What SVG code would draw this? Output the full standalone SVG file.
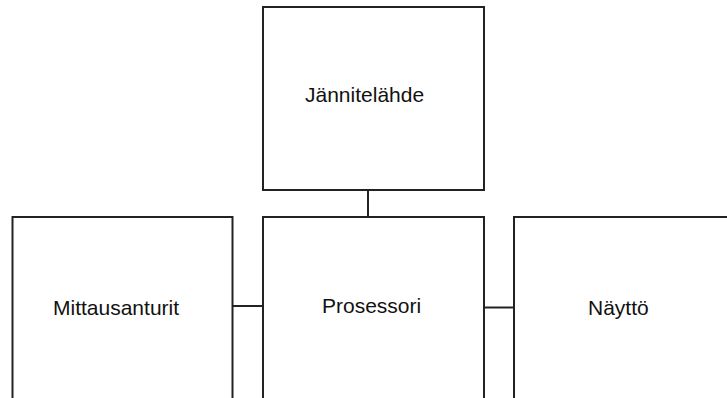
<svg xmlns="http://www.w3.org/2000/svg" width="727" height="398" viewBox="0 0 727 398">
<style>
.box{fill:#fff;stroke:#222;stroke-width:2}
.lbl{font-family:"Liberation Sans",Arial,sans-serif;font-size:21px;fill:#111}
.conn{stroke:#222;stroke-width:2;fill:none}
</style>
<rect width="727" height="398" fill="#fff"/>
<g id="connectors">
<line class="conn" x1="368" y1="190" x2="368" y2="217"/>
<line class="conn" x1="233" y1="306" x2="263" y2="306"/>
<line class="conn" x1="484" y1="307.5" x2="514" y2="307.5"/>
</g>
<g id="jannitelahde">
<rect class="box" x="263" y="7" width="221" height="183"/>
<text class="lbl" x="305" y="102">Jännitelähde</text>
</g>
<g id="mittausanturit">
<rect class="box" x="12.5" y="217" width="220" height="200"/>
<text class="lbl" x="53" y="315">Mittausanturit</text>
</g>
<g id="prosessori">
<rect class="box" x="263" y="217" width="221" height="200"/>
<text class="lbl" x="322" y="313">Prosessori</text>
</g>
<g id="naytto">
<rect class="box" x="514" y="217" width="230" height="200"/>
<text class="lbl" x="588" y="315">Näyttö</text>
</g>
</svg>
